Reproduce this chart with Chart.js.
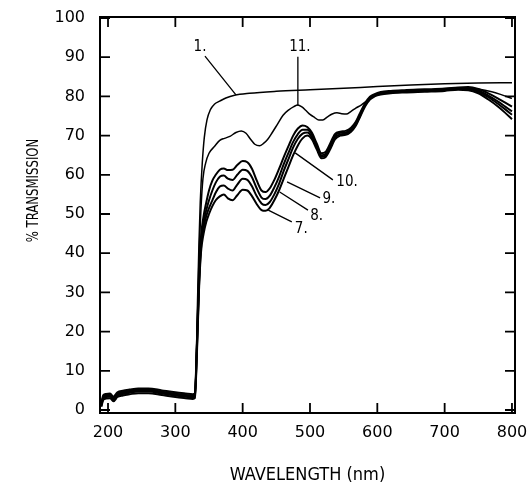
<!DOCTYPE html>
<html><head><meta charset="utf-8">
<script src="https://cdn.jsdelivr.net/npm/chart.js@4.4.1/dist/chart.umd.min.js"></script>
<style>html,body{margin:0;padding:0;background:#fff;}#wrap{width:529px;height:486px;}</style>
</head><body><div id="wrap"><canvas id="c" width="529" height="486"></canvas></div>
<script>
// ---- data ----
const xTickValues = [200, 300, 400, 500, 600, 700, 800];
const yTickValues = [0, 10, 20, 30, 40, 50, 60, 70, 80, 90, 100];
const seriesNames = ['1.', '11.', '10.', '9.', '8.', '7.'];
const xTitle = 'WAVELENGTH (nm)';
const yTitle = '% TRANSMISSION';

const wl1 = [190,193,197,203,208,214,222,232,245,260,280,300,315,326,329,331,333,335,337,340,343,347,352,358,366,375,388,410,450,500,550,600,650,700,750,800];
const t1  = [1.2,3.2,3.5,3.6,2.8,3.9,4.3,4.6,4.9,4.9,4.4,3.9,3.6,3.4,4,12,28,42,53,63,69.5,74,76.6,78,78.8,79.6,80.3,80.8,81.3,81.7,82.1,82.5,82.9,83.2,83.4,83.5];

const wl11 = [190,193,197,203,208,214,222,232,245,260,280,300,315,326,329,332,335,338,341,345,350,358,366,373,381,390,398,405,412,418,425,431,437,444,452,460,468,476,482,488,494,500,507,513,519,526,533,540,547,554,561,568,576,584,592,600,615,640,670,700,730,750,770,785,800];
const t11  = [1.4,3.5,3.8,3.9,3.1,4.2,4.6,4.9,5.2,5.2,4.7,4.2,3.9,3.7,4,18,38,51,59,63,65.5,67.2,68.8,69.3,69.8,70.8,71.2,70.6,69,67.8,67.4,68,69,70.8,73,75.2,76.5,77.4,77.8,77.3,76.4,75.4,74.6,74,74,74.8,75.5,75.8,75.6,75.5,76.2,77,77.8,78.8,79.8,80.5,81.1,81.4,81.6,81.8,82.2,81.9,81.2,80.4,79.5];

const wlB = [190,193,197,203,208,214,222,232,245,260,280,300,315,326,329,332,335,338,342,346,350,355,360,366,372,378,385,392,400,407,414,421,428,434,440,447,454,461,468,475,482,489,496,503,510,517,523,530,537,545,553,561,568,575,582,589,596,605,620,640,670,700,720,735,750,765,780,790,800];
const t10 = [1.6,3.8,4.1,4.2,3.4,4.5,4.9,5.2,5.5,5.5,5.0,4.5,4.2,4.0,4.2,17,33,44,49.5,53,56,58.5,60,61.3,61.6,61.2,61.3,62.5,63.5,63.2,61.5,58.5,56,55.6,56.5,58.7,61.5,64.5,67.3,70,71.8,72.6,72.2,70.7,68,65.5,65.8,68,70.4,71,71.2,72,73.5,76,78.3,79.9,80.6,81.1,81.4,81.6,81.8,82,82.3,82.4,81.9,80.8,79.4,78.4,77.4];
const t9  = [1.3,3.4,3.7,3.8,3.0,4.1,4.5,4.8,5.1,5.1,4.6,4.1,3.8,3.6,3.8,16,32,42.5,48,51,53.5,56,58,59.5,59.8,59,58.7,60,61.3,61,59.3,56.5,54.2,53.8,54.6,56.8,59.5,62.7,65.6,68.4,70.4,71.5,71.5,70.2,67.5,65,65.3,67.5,70,70.7,70.8,71.6,73.2,75.6,78,79.6,80.4,80.9,81.2,81.4,81.6,81.8,82.1,82.1,81.5,80.2,78.6,77.4,76.2];
const t8  = [1.0,3.0,3.3,3.4,2.6,3.7,4.1,4.4,4.7,4.7,4.2,3.7,3.4,3.2,3.4,15,31,41,46.5,49.5,51.5,53.5,55.5,57,57.3,56.5,56,57.5,59,58.7,57,54.5,52.7,52.3,53,55,57.7,61,64,67,69.2,70.5,70.8,69.6,67,64.6,64.9,67,69.5,70.3,70.5,71.3,72.8,75.3,77.8,79.4,80.2,80.7,81,81.2,81.4,81.6,81.9,81.9,81.2,79.8,78,76.7,75.3];
const t7  = [0.8,2.6,2.9,3.0,2.2,3.3,3.7,4.0,4.3,4.3,3.8,3.3,3.0,2.8,3.0,14,30,40,45,48,50,52,53.5,54.5,55,54,53.5,54.8,56.2,56,54.5,52.5,51,50.8,51.5,53.5,56,59,62,65,67.5,69.3,70,69,66.5,64.2,64.5,66.5,69,70,70.2,71,72.5,75,77.5,79.2,80,80.5,80.8,81,81.2,81.4,81.7,81.6,80.8,79.2,77.3,75.8,74.2];

// curve labels with leader lines (data coordinates)
const labelNm    = [336.6, 485, 555, 528, 510, 487];
const labelPct   = [92.6, 92.6, 58.2, 53.8, 49.5, 46.2];
const leadFromNm = [344, 482, 478, 466, 455, 438];
const leadFromPc = [90.3, 90.1, 65.6, 58.2, 55.6, 51];
const leadToNm   = [390, 482, 534, 515, 497, 473];
const leadToPc   = [80.4, 77.6, 58.7, 54.1, 51, 48];

// ---- chart ----
const COND = '"DejaVu Sans Condensed", "DejaVu Sans", sans-serif';
const REG = '"DejaVu Sans", sans-serif';
const pts = (xs, ys) => xs.map((v, i) => ({x: v, y: ys[i]}));
const mk = (name, xs, ys, w) => ({label: name, data: pts(xs, ys), borderColor: '#000', borderWidth: w,
  pointRadius: 0, fill: false, cubicInterpolationMode: 'monotone'});
const noPad = s => { s.paddingLeft = 0; s.paddingRight = 0; s.paddingTop = 0; s.paddingBottom = 0; };

const decor = {
  id: 'decor',
  afterDatasetsDraw(chart) {
    const {ctx, chartArea: a, scales: {x, y}} = chart;
    ctx.save();
    ctx.strokeStyle = '#000';
    ctx.lineWidth = 2;
    ctx.strokeRect(a.left, a.top, a.right - a.left, a.bottom - a.top);
    ctx.lineWidth = 1.8;
    const L = 10;
    ctx.beginPath();
    xTickValues.forEach(v => { const p = x.getPixelForValue(v);
      ctx.moveTo(p, a.bottom); ctx.lineTo(p, a.bottom - L);
      ctx.moveTo(p, a.top); ctx.lineTo(p, a.top + L); });
    yTickValues.forEach(v => { const p = y.getPixelForValue(v);
      ctx.moveTo(a.left, p); ctx.lineTo(a.left + L, p);
      ctx.moveTo(a.right, p); ctx.lineTo(a.right - L, p); });
    ctx.stroke();
    ctx.lineWidth = 1.3;
    ctx.beginPath();
    seriesNames.forEach((n, i) => {
      ctx.moveTo(x.getPixelForValue(leadFromNm[i]), y.getPixelForValue(leadFromPc[i]));
      ctx.lineTo(x.getPixelForValue(leadToNm[i]), y.getPixelForValue(leadToPc[i]));
    });
    ctx.stroke();
    ctx.fillStyle = '#000';
    ctx.font = '15px ' + COND;
    ctx.textAlign = 'center';
    ctx.textBaseline = 'middle';
    seriesNames.forEach((n, i) => ctx.fillText(n, x.getPixelForValue(labelNm[i]), y.getPixelForValue(labelPct[i])));
    // y axis title
    ctx.font = '13px ' + COND;
    ctx.translate(34, y.getPixelForValue(56));
    ctx.rotate(-Math.PI / 2);
    ctx.scale(1, 1.25);
    ctx.fillText(yTitle, 0, 0);
    ctx.restore();
  }
};

new Chart(document.getElementById('c'), {
  type: 'line',
  data: { datasets: [
    mk(seriesNames[0], wl1, t1, 1.5),
    mk(seriesNames[1], wl11, t11, 1.5),
    mk(seriesNames[2], wlB, t10, 2),
    mk(seriesNames[3], wlB, t9, 2),
    mk(seriesNames[4], wlB, t8, 2),
    mk(seriesNames[5], wlB, t7, 2)
  ]},
  options: {
    responsive: false, animation: false, devicePixelRatio: 1,
    layout: { padding: { top: 17, right: 14, left: 0, bottom: 0 } },
    plugins: { legend: { display: false }, tooltip: { enabled: false } },
    scales: {
      x: { type: 'linear', min: 188.1, max: 804.5,
        grid: { display: false, drawTicks: false }, border: { display: false },
        afterBuildTicks: s => { s.ticks = xTickValues.map(v => ({value: v})); },
        afterFit: s => { s.height = 73; noPad(s); },
        ticks: { padding: 10, color: '#000', font: { family: REG, size: 16 } },
        title: { display: true, text: xTitle, color: '#000', font: { family: COND, size: 18 }, padding: { top: 0, bottom: 0 } } },
      y: { type: 'linear', min: -0.77, max: 100.26,
        grid: { display: false, drawTicks: false }, border: { display: false },
        afterBuildTicks: s => { s.ticks = yTickValues.map(v => ({value: v})); },
        afterFit: s => { s.width = 100; noPad(s); },
        ticks: { padding: 15, color: '#000', font: { family: REG, size: 16 } },
        title: { display: false } }
    }
  },
  plugins: [decor]
});
</script></body></html>
